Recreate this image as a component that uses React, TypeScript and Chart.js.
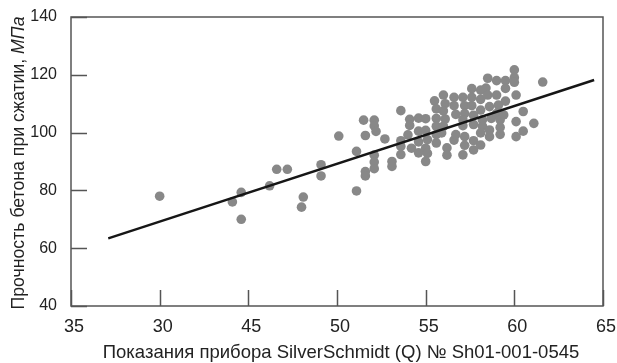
import React, { useEffect, useRef } from "react";
import { Chart, registerables } from "chart.js";

Chart.register(...registerables);

// Readings of the SilverSchmidt (Q) device
const readingsQ: number[] = [
  40.0, 44.1, 44.6, 44.6, 46.2, 46.6, 47.2, 48.1, 48.0, 49.1, 49.1, 50.1, 51.1, 51.1, 51.5, 51.6, 51.6, 51.6,
  52.1, 52.1, 52.2, 52.1, 52.1, 52.1, 52.7, 53.1, 53.1,
  53.6, 53.6, 53.6, 53.6, 54.0, 54.1, 54.1, 54.2, 54.6, 54.6, 54.6, 54.6, 55.0, 55.0, 55.1, 55.0, 55.1, 55.0,
  55.5, 55.6, 55.6, 55.6, 55.6, 55.6,
  56.0, 56.1, 56.0, 56.1, 56.0, 55.9, 56.2, 56.2,
  56.6, 56.6, 56.7, 56.6, 56.7,
  57.1, 57.2, 57.2, 57.1, 57.1, 57.2, 57.2, 57.1,
  57.6, 57.6, 57.6, 57.7, 57.7, 57.7, 57.7,
  58.1, 58.1, 58.1, 58.2, 58.2, 58.1, 58.1,
  58.5, 58.4, 58.5, 58.6, 58.7, 58.6, 58.6,
  59.0, 59.0, 59.1, 59.0, 59.2, 59.2, 59.2,
  59.5, 59.5, 59.5, 59.4,
  60.0, 60.0, 60.0, 60.1, 60.1, 60.1,
  60.5, 60.5, 61.1, 61.6,
];

// Compressive strength of concrete, MPa
const strengthMPa: number[] = [
  78.0, 76.0, 79.3, 70.0, 81.6, 87.3, 87.3, 77.7, 74.2, 88.9, 85.0, 98.8, 93.5, 79.8, 104.3, 99.0, 86.5, 85.0,
  104.3, 102.3, 100.4, 92.2, 89.8, 87.5, 97.8, 90.0, 88.3,
  107.6, 97.2, 95.2, 92.4, 99.2, 104.6, 102.5, 94.6, 105.0, 100.5, 96.8, 93.0, 104.8, 100.8, 97.6, 94.6, 92.8, 90.0,
  111.0, 108.2, 104.9, 102.2, 99.3, 96.4,
  113.0, 110.0, 107.5, 104.7, 102.2, 99.9, 94.7, 92.2,
  112.2, 109.3, 106.3, 97.4, 99.3,
  112.2, 109.3, 106.6, 104.4, 102.4, 98.6, 95.6, 92.3,
  115.2, 112.2, 109.3, 106.0, 102.8, 97.2, 94.0,
  114.7, 111.5, 107.8, 104.4, 102.2, 99.9, 95.7,
  118.8, 115.4, 113.0, 109.0, 104.9, 100.9, 98.6,
  118.0, 113.0, 109.5, 106.6, 104.4, 101.8, 99.4,
  118.0, 115.3, 110.9, 106.1,
  121.7, 119.0, 117.4, 113.0, 103.8, 98.6,
  107.3, 100.5, 103.2, 117.5,
];

// Regression line end points
const trendX: number[] = [37.1, 64.5];
const trendY: number[] = [63.4, 118.2];

// Tick labels as printed in the original figure
const xTickLabels: string[] = ["35", "30", "45", "50", "55", "60", "65"];
const yTickLabels: string[] = ["40", "60", "80", "100", "120", "140"];

const xTitle = "Показания прибора SilverSchmidt (Q) № Sh01-001-0545";
const yTitleMain = "Прочность бетона при сжатии, ";
const yTitleUnit = "МПа";

const FONT = '"Liberation Sans", Arial, Helvetica, sans-serif';

const framePlugin = {
  id: "frameAndTitles",
  beforeDatasetsDraw(chart: any) {
    const { ctx, chartArea: a, scales } = chart;
    const xs = scales.x;
    const ys = scales.y;
    ctx.save();
    ctx.strokeStyle = "#555555";
    ctx.lineWidth = 1.5;
    ctx.strokeRect(a.left, a.top, a.right - a.left, a.bottom - a.top);
    ctx.beginPath();
    xs.ticks.forEach((t: any) => {
      const px = Math.round(xs.getPixelForValue(t.value)) + 0.5;
      ctx.moveTo(px, a.bottom);
      ctx.lineTo(px, a.bottom - 16);
    });
    ys.ticks.forEach((t: any) => {
      const py = Math.round(ys.getPixelForValue(t.value)) + 0.5;
      ctx.moveTo(a.left, py);
      ctx.lineTo(a.left + 16, py);
    });
    ctx.stroke();

    // X title
    ctx.fillStyle = "#222222";
    ctx.font = `18.5px ${FONT}`;
    ctx.textAlign = "center";
    ctx.textBaseline = "alphabetic";
    ctx.fillText(xTitle, 341, 358);

    // Y title (rotated, unit in italic)
    ctx.translate(19, 163);
    ctx.rotate(-Math.PI / 2);
    ctx.textAlign = "left";
    ctx.textBaseline = "middle";
    const fMain = `17.7px ${FONT}`;
    const fUnit = `italic 17.7px ${FONT}`;
    ctx.font = fMain;
    const w1 = ctx.measureText(yTitleMain).width;
    ctx.font = fUnit;
    const w2 = ctx.measureText(yTitleUnit).width;
    const start = -(w1 + w2) / 2;
    ctx.font = fMain;
    ctx.fillText(yTitleMain, start, 0);
    ctx.font = fUnit;
    ctx.fillText(yTitleUnit, start + w1, 0);
    ctx.restore();
  },
};

export default function App() {
  const ref = useRef<HTMLCanvasElement | null>(null);

  useEffect(() => {
    if (!ref.current) return;
    const points = readingsQ.map((x, i) => ({ x, y: strengthMPa[i] }));
    const trend = trendX.map((x, i) => ({ x, y: trendY[i] }));
    const chart = new Chart(ref.current, {
      type: "scatter",
      data: {
        datasets: [
          {
            label: "Регрессия",
            data: trend,
            showLine: true,
            borderColor: "#161616",
            borderWidth: 2.4,
            pointRadius: 0,
            pointHoverRadius: 0,
          },
          {
            label: "Измерения",
            data: points,
            backgroundColor: "#888888",
            borderWidth: 0,
            pointRadius: 4.8,
            pointHoverRadius: 4.8,
          },
        ],
      },
      options: {
        animation: false,
        responsive: false,
        maintainAspectRatio: false,
        devicePixelRatio: 1,
        layout: { padding: { top: 17, right: 14, left: 0, bottom: 0 } },
        plugins: { legend: { display: false }, tooltip: { enabled: false } },
        scales: {
          x: {
            type: "linear",
            min: 35,
            max: 65,
            grid: { display: false },
            border: { display: false },
            afterFit: (s: any) => {
              s.height = 57;
            },
            ticks: {
              stepSize: 5,
              autoSkip: false,
              maxRotation: 0,
              padding: 2,
              labelOffset: 3,
              color: "#222222",
              font: { family: FONT, size: 18 },
              callback: (_v: any, i: number) => xTickLabels[i],
            },
          },
          y: {
            type: "linear",
            min: 40,
            max: 140,
            grid: { display: false },
            border: { display: false },
            afterFit: (s: any) => {
              s.width = 71;
            },
            ticks: {
              stepSize: 20,
              autoSkip: false,
              padding: 6,
              color: "#222222",
              font: { family: FONT, size: 16 },
              callback: (_v: any, i: number) => yTickLabels[i],
            },
          },
        },
      },
      plugins: [framePlugin],
    });
    return () => chart.destroy();
  }, []);

  return (
    <div style={{ position: "fixed", left: 0, top: 0, width: 617, height: 363, background: "#fff" }}>
      <canvas ref={ref} width={617} height={363} style={{ display: "block" }} />
    </div>
  );
}
